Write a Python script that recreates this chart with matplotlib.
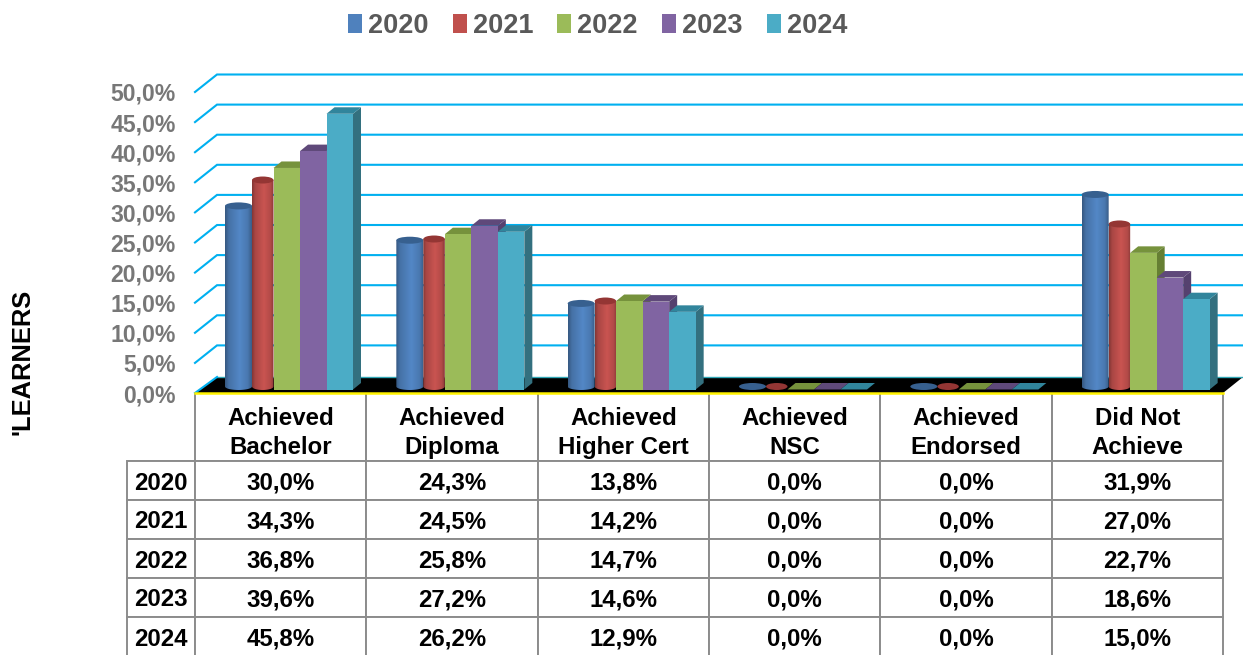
import numpy as np
import matplotlib
matplotlib.use("Agg")
import matplotlib.pyplot as plt
from matplotlib.patches import Polygon, Ellipse, Patch

plt.rcParams['font.family'] = ['Liberation Sans', 'DejaVu Sans']
plt.rcParams['font.weight'] = 'bold'

categories = ["Achieved\nBachelor", "Achieved\nDiploma", "Achieved\nHigher Cert",
              "Achieved\nNSC", "Achieved\nEndorsed", "Did Not\nAchieve"]
years = ["2020", "2021", "2022", "2023", "2024"]
values_2020 = [30.0, 24.3, 13.8, 0.0, 0.0, 31.9]
values_2021 = [34.3, 24.5, 14.2, 0.0, 0.0, 27.0]
values_2022 = [36.8, 25.8, 14.7, 0.0, 0.0, 22.7]
values_2023 = [39.6, 27.2, 14.6, 0.0, 0.0, 18.6]
values_2024 = [45.8, 26.2, 12.9, 0.0, 0.0, 15.0]
series = [values_2020, values_2021, values_2022, values_2023, values_2024]
y_ticks = [0, 5, 10, 15, 20, 25, 30, 35, 40, 45, 50]

W, H = 1243, 655
front_colors = ['#4F81BD', '#C0504D', '#9BBB59', '#8064A2', '#4BACC6']
top_colors = ['#37608F', '#943634', '#76923C', '#5F497A', '#31859C']
side_colors = ['#2F5480', '#7F2F2D', '#667F33', '#55416F', '#33707F']
bar_px = [27, 21.5, 26.5, 26.5, 26.5]

fig = plt.figure(figsize=(W / 100, H / 100), dpi=100)

# table goes underneath the chart
tax = fig.add_axes([127 / W, -1 / H, (1223 - 127) / W, 263 / H])
tax.axis('off')
fmt = lambda v: f"{v:.1f}".replace('.', ',') + '%'
rows = [[''] * 7, [''] + categories]
for year, vals in zip(years, series):
    rows.append([year] + [fmt(v) for v in vals])
tab = tax.table(cellText=rows, colWidths=[68] + [171.33] * 6, cellLoc='center', bbox=[0, 0, 1, 1])
tab.auto_set_font_size(False)
tab.set_fontsize(17.3)
heights = [12, 56, 39, 39, 39, 39, 39]
for (r, c), cell in tab.get_celld().items():
    cell.set_height(heights[r])
    cell.set_edgecolor('#8C8C8C')
    cell.set_linewidth(1.4)
    cell.PAD = 0.01
    if r == 0:
        cell.visible_edges = 'open' if c == 0 else 'vertical'
    elif r == 1:
        cell.visible_edges = 'B' if c == 0 else 'LRB'
        cell.get_text().set_linespacing(1.38)
    else:
        cell.get_text().set_verticalalignment('center_baseline')

# chart axes: front plane of the 3d box
ax = fig.add_axes([195 / W, (H - 393) / H, 1028 / W, 301 / H])
ax.patch.set_alpha(0)
ax.set_zorder(3)
px_x = 6 / 1028
px_y = 50 / 301

# gridlines on the back wall and side wall
wall_dx, wall_dy = 22 * px_x, 17.5 * px_y
x_end = 6 + 20 * px_x
for v in y_ticks[1:]:
    ax.plot([0, wall_dx, x_end], [v, v + wall_dy, v + wall_dy], color='#00B0F0', lw=1.5,
            clip_on=False, solid_joinstyle='miter', zorder=1)

# floor
floor_dy = 16 * px_y
floor = Polygon([(0, 0), (6, 0), (x_end, floor_dy), (wall_dx, floor_dy)], closed=True,
                facecolor='black', edgecolor='none', zorder=2, clip_on=False)
ax.add_patch(floor)
ax.plot([wall_dx, x_end], [floor_dy, floor_dy], color='#2FA6B5', lw=1, zorder=2, clip_on=False)
ax.plot([0, wall_dx], [0, floor_dy], color='#00B0F0', lw=1.5, zorder=2, clip_on=False)
ax.plot([0, 6], [0, 0], color='#FFF200', lw=1.8, zorder=2.5, clip_on=False)


def gradient(color):
    base = np.array(matplotlib.colors.to_rgb(color))
    pos = [0, 0.14, 0.55, 0.85, 1]
    fac = [0.68, 0.88, 1.05, 0.93, 0.72]
    t = np.linspace(0, 1, 64)
    f = np.interp(t, pos, fac)
    return np.clip(f[:, None] * base, 0, 1)[None, :, :]


base = 3.5 * px_y
depth_x, depth_y = 8 * px_x, 6.5 * px_y
ell_h = 7 * px_y
z = 5
for i in range(len(categories)):
    left = i + 30 * px_x
    for j, vals in enumerate(series):
        v = vals[i]
        w = bar_px[j] * px_x
        top = base + v
        if j < 2:
            # cylinders for the first two years
            cy = 3 * px_y
            t = np.linspace(np.pi, 2 * np.pi, 30)
            xs = left + w / 2 + w / 2 * np.cos(t)
            ys = base + cy + ell_h / 2 * np.sin(t)
            outline = list(zip(xs, ys)) + [(left + w, top + cy), (left, top + cy)]
            shape = Polygon(outline, closed=True, transform=ax.transData)
            if v > 0:
                im = ax.imshow(gradient(front_colors[j]), extent=(left, left + w, base - ell_h, top + cy),
                               aspect='auto', interpolation='bilinear', zorder=z, clip_on=True)
                im.set_clip_path(shape)
            ax.add_patch(Ellipse((left + w / 2, top + cy), w, ell_h, facecolor=top_colors[j],
                                 edgecolor='none', zorder=z + 0.5, clip_on=False))
        else:
            side = [(left + w, base), (left + w + depth_x, base + depth_y),
                    (left + w + depth_x, top + depth_y), (left + w, top)]
            lid = [(left, top), (left + w, top), (left + w + depth_x, top + depth_y),
                   (left + depth_x, top + depth_y)]
            ax.add_patch(Polygon(side, closed=True, facecolor=side_colors[j], edgecolor='none',
                                 zorder=z, clip_on=False))
            ax.add_patch(Polygon(lid, closed=True, facecolor=top_colors[j], edgecolor='none',
                                 zorder=z + 0.1, clip_on=False))
            if v > 0:
                ax.bar(left, v, width=w, bottom=base, align='edge', color=front_colors[j],
                       zorder=z + 0.2, clip_on=False)
        left += w
        z += 1

ax.set_xlim(0, 6)
ax.set_ylim(0, 50)
ax.set_xticks([])
ax.set_yticks(y_ticks)
ax.set_yticklabels([fmt(v) for v in y_ticks], fontsize=16.6, color='#777777', fontweight='bold')
ax.tick_params(axis='y', length=0, pad=14)
for s in ax.spines.values():
    s.set_visible(False)

handles = [Patch(facecolor=c, edgecolor='none', label=y) for c, y in zip(front_colors, years)]
fig.legend(handles=handles, loc='center', bbox_to_anchor=(597.5 / W, 1 - 26 / H), ncol=5, frameon=False,
           fontsize=19.5, labelcolor='#595959', handlelength=0.52, handleheight=0.67, handletextpad=0.22,
           columnspacing=0.89, borderpad=0, borderaxespad=0)

fig.text(23 / W, 1 - 361.5 / H, "'LEARNERS", rotation=90, ha='center', va='center', fontsize=18.4,
         color='black', fontweight='bold')

fig.savefig('out.png', dpi=100)
